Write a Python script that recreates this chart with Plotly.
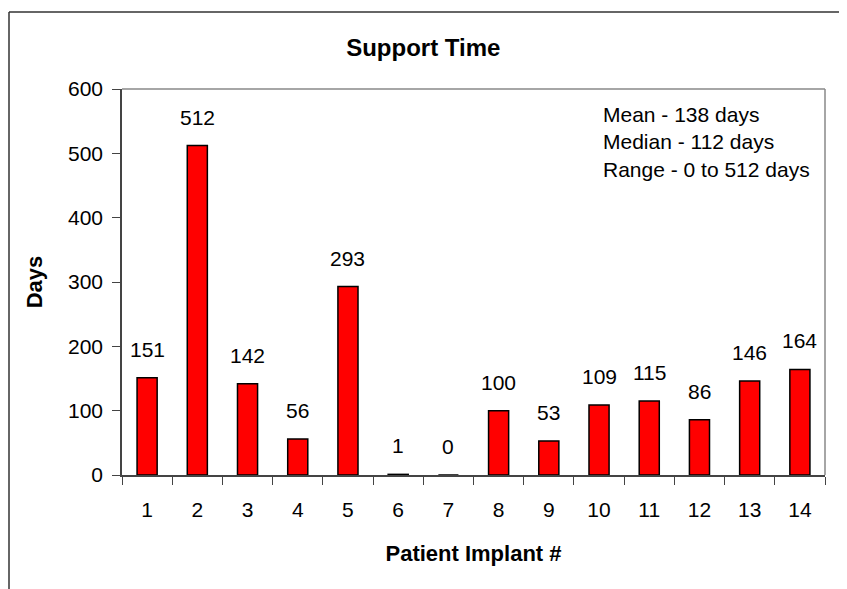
import plotly.graph_objects as go

patients = [str(i) for i in range(1, 15)]
days = [151, 512, 142, 56, 293, 1, 0, 100, 53, 109, 115, 86, 146, 164]
y_ticks = [0, 100, 200, 300, 400, 500, 600]
stats_lines = ["Mean - 138 days", "Median - 112 days", "Range - 0 to 512 days"]

FONT = "Liberation Sans, Arial, sans-serif"

# the page body adds an 8px margin, so the figure is drawn 8px smaller
W, H = 839, 581
ML, MT, MR, MB = 114, 81, 22, 114
PW, PH = W - ML - MR, H - MT - MB

fig = go.Figure()
fig.add_trace(go.Bar(
    x=patients, y=days, width=0.4,
    marker=dict(color="#FF0000", line=dict(color="#000000", width=1.5)),
    hoverinfo="x+y",
))

# value labels above each bar (category index positions on the category axis)
for i, d in enumerate(days):
    fig.add_annotation(x=i, y=d, text=str(d), showarrow=False,
                       xref="x", yref="y",
                       yanchor="bottom", yshift=15,
                       font=dict(family=FONT, size=21, color="#000"))

fig.add_annotation(xref="paper", yref="paper", x=0.681, y=0.970,
                   xanchor="left", yanchor="top", align="left",
                   text="<br>".join(stats_lines), showarrow=False,
                   font=dict(family=FONT, size=21, color="#000"))

# outer chart border (top and left visible)
bx = (1 - ML) / PW
by = (H - MB - 4) / PH
fig.add_shape(type="line", xref="paper", yref="paper",
              x0=bx, y0=by, x1=1.1, y1=by,
              line=dict(color="#333", width=1.5))
fig.add_shape(type="line", xref="paper", yref="paper",
              x0=bx, y0=by, x1=bx, y1=-0.4,
              line=dict(color="#333", width=1.5))

fig.update_layout(
    width=W, height=H,
    margin=dict(l=ML, r=MR, t=MT, b=MB),
    paper_bgcolor="white", plot_bgcolor="white",
    showlegend=False,
    title=dict(text="<b>Support Time</b>", xref="container", x=0.495,
               xanchor="center", y=1 - 40 / H, yanchor="middle",
               font=dict(family=FONT, size=24, color="#000")),
    xaxis=dict(
        type="category",
        title=dict(text="<b>Patient Implant #</b>", standoff=26,
                   font=dict(family=FONT, size=22, color="#000")),
        tickfont=dict(family=FONT, size=21, color="#000"),
        ticklabelstandoff=15,
        showline=True, linecolor="#444", linewidth=1.5, mirror=False,
        ticks="outside", ticklen=8, tickcolor="#444", tickson="boundaries",
        showgrid=False, zeroline=False,
    ),
    yaxis=dict(
        title=dict(text="<b>Days</b>", standoff=19,
                   font=dict(family=FONT, size=22, color="#000")),
        range=[0, 600], tickvals=y_ticks,
        tickfont=dict(family=FONT, size=21, color="#000"),
        ticklabelstandoff=5,
        showline=True, linecolor="#444", linewidth=1.5,
        ticks="outside", ticklen=8, tickcolor="#444",
        showgrid=False, zeroline=False,
    ),
)

# top and right plot-area frame in gray
fig.add_shape(type="line", xref="paper", yref="paper", x0=0, y0=1, x1=1, y1=1,
              line=dict(color="#888", width=1.5))
fig.add_shape(type="line", xref="paper", yref="paper", x0=1, y0=0, x1=1, y1=1,
              line=dict(color="#888", width=1.5))

fig.write_html("out.html")
